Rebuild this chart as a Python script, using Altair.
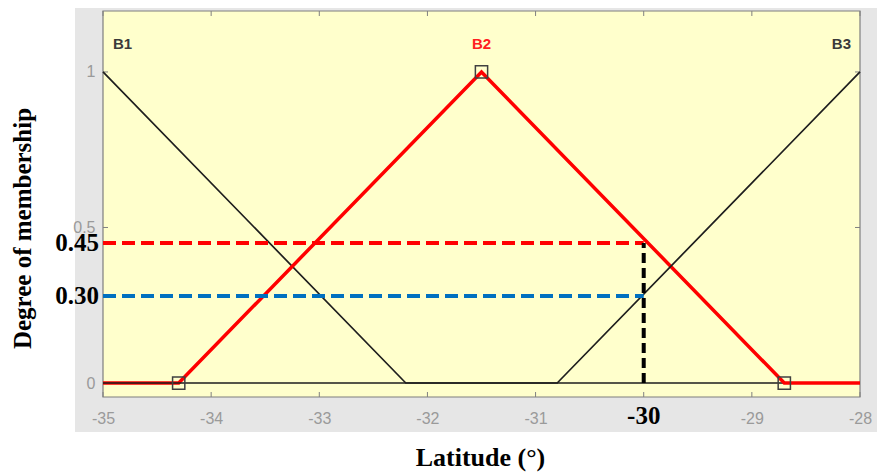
import altair as alt
import pandas as pd

# ---- data ----
x_ticks = [-35, -34, -33, -32, -31, -30, -29, -28]
y_ticks = [0, 0.5, 1]

b1_x = [-35, -32.2, -28]
b1_y = [1, 0, 0]
b2_x = [-35, -34.3, -31.5, -28.7, -28]
b2_y = [0, 0, 1, 0, 0]
b3_x = [-35, -30.8, -28]
b3_y = [0, 0, 1]

marker_x = [-34.3, -31.5, -28.7]
marker_y = [0, 1, 0]

mf_names = ["B1", "B2", "B3"]
mf_label_x = [-35, -31.5, -28]
mf_label_y = [1.09, 1.09, 1.09]

input_x = -30
level_vals = [0.45, 0.28]
level_labels = ["0.45", "0.30"]

W, H = 757, 386

xs = alt.Scale(domain=[-35, -28], nice=False, zero=False)
ys = alt.Scale(domain=[-0.045, 1.196], nice=False, zero=False)

x_axis = alt.Axis(
    values=x_ticks, grid=False, ticks=False, tickSize=0, domain=False,
    labelExpr="datum.value == -30 ? '' : '' + datum.value",
    labelFont="Liberation Sans", labelFontSize=16, labelColor="#9a9a9a",
    labelPadding=21, labelBaseline="middle", labelFlush=False, labelOverlap=False,
    title="Latitude (°)", titleFont="Liberation Serif", titleFontWeight="bold",
    titleFontSize=26, titleColor="black", titleX=377, titleY=68,
    titleBaseline="alphabetic", zindex=1,
)
y_axis = alt.Axis(
    values=y_ticks, grid=False, ticks=False, tickSize=0, domain=False,
    labelExpr="'' + datum.value",
    labelFont="Liberation Sans", labelFontSize=16, labelColor="#9a9a9a",
    labelPadding=8, labelBaseline="middle", labelFlush=False, labelOverlap=False,
    title="Degree of membership", titleFont="Liberation Serif", titleFontWeight="bold",
    titleFontSize=25, titleColor="black", titleX=-73, titleY=217,
    titleBaseline="alphabetic", zindex=1,
)

X = alt.X("x:Q", scale=xs, axis=x_axis)
Y = alt.Y("y:Q", scale=ys, axis=y_axis)

one = pd.DataFrame({"a": [0]})

grey_bg = alt.Chart(one).mark_rect(color="#e6e6e6").encode(
    x=alt.value(-28), x2=alt.value(W + 30), y=alt.value(-5), y2=alt.value(421)
)
plot_bg = alt.Chart(one).mark_rect(fill="#ffffcc", stroke="#7f7f7f", strokeWidth=1.2).encode(
    x=alt.value(0), x2=alt.value(W), y=alt.value(0), y2=alt.value(H)
)

xt = pd.DataFrame({"x": x_ticks})
yt = pd.DataFrame({"y": y_ticks})
tick_style = dict(color="#808080", strokeWidth=1)
xt_bot = alt.Chart(xt).mark_rule(**tick_style).encode(x=X, y=alt.value(H), y2=alt.value(H - 5))
xt_top = alt.Chart(xt).mark_rule(**tick_style).encode(x=X, y=alt.value(0), y2=alt.value(5))
yt_left = alt.Chart(yt).mark_rule(**tick_style).encode(y=Y, x=alt.value(0), x2=alt.value(5))
yt_right = alt.Chart(yt).mark_rule(**tick_style).encode(y=Y, x=alt.value(W), x2=alt.value(W - 5))

b1 = alt.Chart(pd.DataFrame({"x": b1_x, "y": b1_y})).mark_line(color="#1e1e1e", strokeWidth=1.7).encode(x=X, y=Y)
b2 = alt.Chart(pd.DataFrame({"x": b2_x, "y": b2_y})).mark_line(color="#ff0000", strokeWidth=3.5).encode(x=X, y=Y)
b3 = alt.Chart(pd.DataFrame({"x": b3_x, "y": b3_y})).mark_line(color="#1e1e1e", strokeWidth=1.7).encode(x=X, y=Y)

markers = alt.Chart(pd.DataFrame({"x": marker_x, "y": marker_y})).mark_point(
    shape="square", filled=False, size=150, color="#404040", strokeWidth=1.5, opacity=1
).encode(x=X, y=Y)

dash = [13, 6]
red_h = alt.Chart(pd.DataFrame({"x": [-35], "x2": [input_x], "y": [level_vals[0]]})).mark_rule(
    color="#ff0000", strokeWidth=4, strokeDash=dash
).encode(x=X, x2="x2:Q", y=Y)
blue_h = alt.Chart(pd.DataFrame({"x": [-35], "x2": [input_x], "y": [level_vals[1]]})).mark_rule(
    color="#0070c0", strokeWidth=4, strokeDash=dash
).encode(x=X, x2="x2:Q", y=Y)
black_v = alt.Chart(pd.DataFrame({"x": [input_x], "y": [0], "y2": [level_vals[0]]})).mark_rule(
    color="#000000", strokeWidth=4, strokeDash=[10, 5]
).encode(x=X, y=Y, y2="y2:Q")

lvl_text = alt.Chart(pd.DataFrame({"y": level_vals, "label": level_labels})).mark_text(
    align="right", baseline="middle", font="Liberation Serif", fontWeight="bold", fontSize=25, color="black"
).encode(x=alt.value(-4), y=Y, text="label:N")

x30_text = alt.Chart(pd.DataFrame({"x": [input_x], "label": [str(input_x)]})).mark_text(
    align="center", baseline="middle", font="Liberation Serif", fontWeight="bold", fontSize=25, color="black"
).encode(x=X, y=alt.value(H + 19), text="label:N")

lab_df = pd.DataFrame({"x": mf_label_x, "y": mf_label_y, "name": mf_names})
lab_style = dict(baseline="middle", font="Liberation Sans", fontWeight="bold", fontSize=15)
b1_lab = alt.Chart(lab_df.iloc[[0]]).mark_text(align="left", dx=10, color="#3a3a3a", **lab_style).encode(x=X, y=Y, text="name:N")
b2_lab = alt.Chart(lab_df.iloc[[1]]).mark_text(align="center", color="#ff2020", **lab_style).encode(x=X, y=Y, text="name:N")
b3_lab = alt.Chart(lab_df.iloc[[2]]).mark_text(align="right", dx=-9, color="#3a3a3a", **lab_style).encode(x=X, y=Y, text="name:N")

chart = alt.layer(
    grey_bg, plot_bg, xt_bot, xt_top, yt_left, yt_right,
    b1, b2, b3, markers, red_h, blue_h, black_v,
    lvl_text, x30_text, b1_lab, b2_lab, b3_lab,
).properties(
    width=W, height=H,
    autosize=alt.AutoSizeParams(type="none"),
    padding={"left": 95, "top": 3, "right": 17, "bottom": 76},
    background="white",
).configure_view(stroke=None)

chart.save("out.html", embed_options={"renderer": "svg", "actions": False})
